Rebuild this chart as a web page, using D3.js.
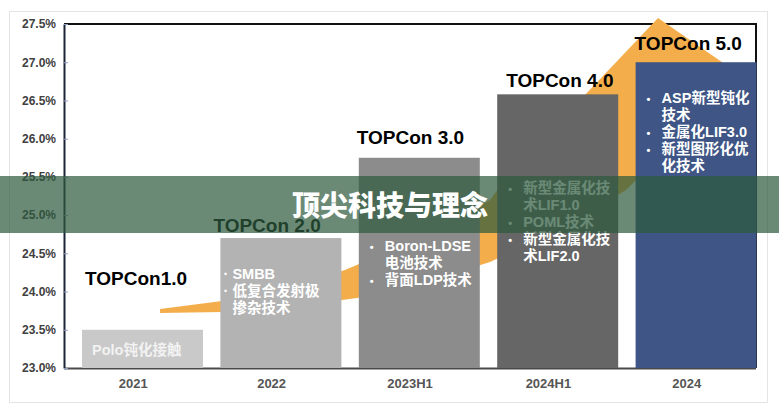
<!DOCTYPE html>
<html>
<head>
<meta charset="utf-8">
<script src="https://cdn.jsdelivr.net/npm/d3@7"></script>
<style>
  body { margin: 0; background: #fff; }
  text { font-family: "Liberation Sans", "Noto Sans CJK SC", sans-serif; font-weight: bold; }
</style>
</head>
<body>
<svg id="chart" width="779" height="409"></svg>
<script>
// chart data
const categories = ["2021", "2022", "2023H1", "2024H1", "2024"];
const efficiency = [23.5, 24.7, 25.75, 26.58, 27.0];
const yTicks = [23.0, 23.5, 24.0, 24.5, 25.0, 25.5, 26.0, 26.5, 27.0, 27.5];
const stageNames = ["TOPCon1.0", "TOPCon 2.0", "TOPCon 3.0", "TOPCon 4.0", "TOPCon 5.0"];
// value (%) where each stage caption sits
const stageLabelAt = [24.09, 24.78, 25.93, 26.68, 27.16];
const techNotes = [
  [["Polo钝化接触"]],
  [["SMBB"], ["低复合发射极", "掺杂技术"]],
  [["Boron-LDSE", "电池技术"], ["背面LDP技术"]],
  [["新型金属化技", "术LIF1.0"], ["POML技术"], ["新型金属化技", "术LIF2.0"]],
  [["ASP新型钝化", "技术"], ["金属化LIF3.0"], ["新型图形化优", "化技术"]],
];
const bulletStyle = ["none", "dot", "disc", "disc", "disc"];
// value (%) of the first note line baseline
const noteStartAt = [23.17, 24.16, 24.53, 25.29, 26.47];
const title = "顶尖科技与理念";
// growth arrow outline, in [category units, %]
const arrowOutline = [
  [0.694, 23.772], [1.142, 23.877], [1.633, 24.06], [2.03, 24.282],
  [2.572, 24.701], [3.078, 25.198], [3.295, 25.721], [3.62, 26.297],
  [4.292, 27.579], [4.921, 26.794], [4.632, 26.349], [4.061, 25.329],
  [3.584, 24.805], [3.078, 24.387], [2.572, 24.099], [2.117, 23.916],
  [1.633, 23.798], [1.142, 23.733], [0.694, 23.72],
];

const barColors = ["#c9c9c9", "#b3b3b3", "#8c8c8c", "#666666", "#3e5585"];

const svg = d3.select("#chart");
const WIDTH = 779;
const MARGIN = { top: 24, right: 23, bottom: 41, left: 64 };
const plotRight = WIDTH - MARGIN.right;
const plotBottom = 409 - MARGIN.bottom;

const y = d3.scaleLinear([23, 27.5], [plotBottom, MARGIN.top]);
const x = d3.scaleBand(categories, [MARGIN.left, plotRight]);
const u = d3.scaleLinear([0, categories.length], [MARGIN.left, plotRight]);
const BAR_OFFSET = 18;
const BAR_WIDTH = 121;

// outer light frame
svg.append("rect")
  .attr("x", 9.5).attr("y", 11.5)
  .attr("width", 758).attr("height", 391)
  .attr("fill", "none").attr("stroke", "#e4e4e4");

// plot frame
svg.append("path")
  .attr("d", `M${MARGIN.left},${MARGIN.top}H${plotRight}V${plotBottom}`)
  .attr("fill", "none").attr("stroke", "#111").attr("stroke-width", 2);
svg.append("line")
  .attr("x1", MARGIN.left).attr("x2", plotRight)
  .attr("y1", plotBottom + 0.5).attr("y2", plotBottom + 0.5)
  .attr("stroke", "#4a4a4a").attr("stroke-width", 2);

// y axis
const yAxis = svg.append("g")
  .attr("transform", `translate(${MARGIN.left},0)`)
  .call(d3.axisLeft(y).tickValues(yTicks).tickFormat((d) => d.toFixed(1) + "%")
    .tickSizeInner(-4).tickSizeOuter(0).tickPadding(8));
yAxis.select(".domain").attr("stroke", "#1c2536").attr("stroke-width", 2);
yAxis.selectAll(".tick line").attr("stroke", "#8d9cc0");
yAxis.selectAll(".tick text")
  .attr("fill", "#404040").style("font-size", "12px");

// x axis
const xAxis = svg.append("g")
  .attr("transform", `translate(0,${plotBottom})`)
  .call(d3.axisBottom(x).tickSize(0).tickPadding(11));
xAxis.select(".domain").remove();
xAxis.selectAll(".tick text").attr("fill", "#555").style("font-size", "13px");

// growth arrow
svg.append("path")
  .attr("d", d3.line((d) => u(d[0]), (d) => y(d[1]))(arrowOutline) + "Z")
  .attr("fill", "#f3ae4b");

// bars
svg.append("g")
  .selectAll("rect")
  .data(categories)
  .join("rect")
  .attr("x", (d) => x(d) + BAR_OFFSET)
  .attr("width", BAR_WIDTH)
  .attr("y", (d, i) => y(efficiency[i]))
  .attr("height", (d, i) => y(23) - y(efficiency[i]))
  .attr("fill", (d, i) => barColors[i]);

// stage captions
svg.append("g")
  .selectAll("text")
  .data(stageNames)
  .join("text")
  .attr("x", (d, i) => x(categories[i]) + BAR_OFFSET + [3, -7, -2, 9, -1][i])
  .attr("y", (d, i) => y(stageLabelAt[i]))
  .attr("fill", "#000")
  .style("font-size", "19px")
  .text((d) => d);

// notes inside bars
const LINE_H = 17;
categories.forEach((cat, i) => {
  const g = svg.append("g").style("font-size", "14.5px")
    .attr("fill", i === 0 ? "#f2f2f2" : "#fff");
  const left = x(cat) + BAR_OFFSET;
  const style = bulletStyle[i];
  const bulletX = left + (style === "dot" ? 3 : 11);
  const textX = left + (style === "none" ? 10 : style === "dot" ? 12 : 26);
  let line = 0;
  techNotes[i].forEach((item) => {
    const baseY = y(noteStartAt[i]) + line * LINE_H;
    if (style !== "none") {
      g.append("text").attr("x", bulletX).attr("y", baseY)
        .style("font-size", style === "dot" ? "14.5px" : "11px")
        .text(style === "dot" ? "·" : "•");
    }
    item.forEach((t) => {
      g.append("text").attr("x", textX).attr("y", y(noteStartAt[i]) + line * LINE_H).text(t);
      line++;
    });
  });
});

// banner
svg.append("rect")
  .attr("x", 0).attr("y", 176)
  .attr("width", WIDTH).attr("height", 57)
  .attr("fill", "rgb(45,90,62)").attr("fill-opacity", 0.71);
svg.append("text")
  .attr("x", 390).attr("y", 204)
  .attr("text-anchor", "middle")
  .attr("dominant-baseline", "central")
  .attr("fill", "#fff")
  .style("font-family", "'Noto Sans CJK SC', sans-serif")
  .style("font-size", "28px")
  .style("font-weight", "900")
  .text(title);
</script>
</body>
</html>
